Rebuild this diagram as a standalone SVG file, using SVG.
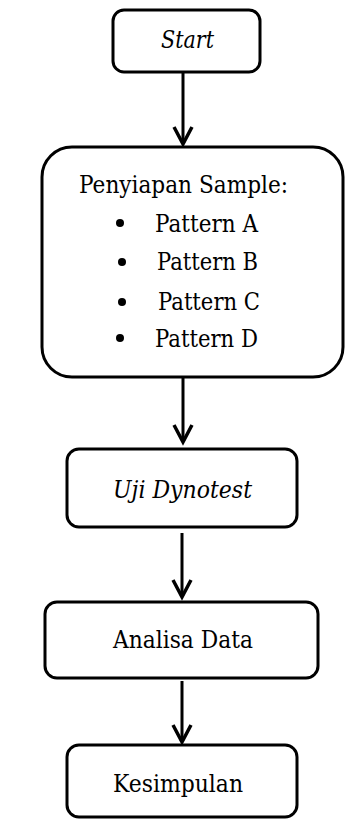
<svg xmlns="http://www.w3.org/2000/svg" width="345" height="821" viewBox="0 0 345 821">
  <style>
    .box { fill: #ffffff; stroke: #000000; stroke-width: 3; }
    .lbl { font-family: 'DejaVu Serif', 'Liberation Serif', serif; font-size: 25px; fill: #000000; }
    .it { font-style: italic; }
    .edge { fill: none; stroke: #000000; stroke-width: 3; }
    .head { fill: none; stroke: #000000; stroke-width: 3.5; stroke-linejoin: miter; }
    .dot { fill: #000000; }
  </style>
  <rect width="345" height="821" fill="#ffffff"/>

  <g id="connectors">
    <line class="edge" x1="183" y1="73" x2="183" y2="144"/>
    <polyline class="head" points="174,127 183,144 192,127"/>
    <line class="edge" x1="183" y1="378" x2="183" y2="442"/>
    <polyline class="head" points="174,425 183,442 192,425"/>
    <line class="edge" x1="182" y1="533" x2="182" y2="597"/>
    <polyline class="head" points="173,580 182,597 191,580"/>
    <line class="edge" x1="182" y1="681" x2="182" y2="742"/>
    <polyline class="head" points="173,725 182,742 191,725"/>
  </g>

  <g id="start">
    <rect class="box" x="113" y="10" width="147" height="62" rx="11"/>
    <text class="lbl it" x="161" y="48" textLength="53" lengthAdjust="spacingAndGlyphs">Start</text>
  </g>

  <g id="penyiapan">
    <rect class="box" x="42" y="147" width="301" height="230" rx="30"/>
    <text class="lbl" x="79" y="193" textLength="209" lengthAdjust="spacingAndGlyphs">Penyiapan Sample:</text>
    <circle class="dot" cx="120" cy="223" r="4"/>
    <text class="lbl" x="155" y="232" textLength="103" lengthAdjust="spacingAndGlyphs">Pattern A</text>
    <circle class="dot" cx="122" cy="262" r="4"/>
    <text class="lbl" x="157" y="270" textLength="101" lengthAdjust="spacingAndGlyphs">Pattern B</text>
    <circle class="dot" cx="122" cy="302" r="4"/>
    <text class="lbl" x="158" y="310" textLength="102" lengthAdjust="spacingAndGlyphs">Pattern C</text>
    <circle class="dot" cx="120" cy="338" r="4"/>
    <text class="lbl" x="155" y="347" textLength="103" lengthAdjust="spacingAndGlyphs">Pattern D</text>
  </g>

  <g id="uji">
    <rect class="box" x="67" y="449" width="230" height="78" rx="12"/>
    <text class="lbl it" x="113" y="498" textLength="139" lengthAdjust="spacingAndGlyphs">Uji Dynotest</text>
  </g>

  <g id="analisa">
    <rect class="box" x="45" y="602" width="273" height="76" rx="12"/>
    <text class="lbl" x="113" y="648" textLength="140" lengthAdjust="spacingAndGlyphs">Analisa Data</text>
  </g>

  <g id="kesimpulan">
    <rect class="box" x="67" y="745" width="230" height="72" rx="12"/>
    <text class="lbl" x="113" y="792" textLength="130" lengthAdjust="spacingAndGlyphs">Kesimpulan</text>
  </g>
</svg>
